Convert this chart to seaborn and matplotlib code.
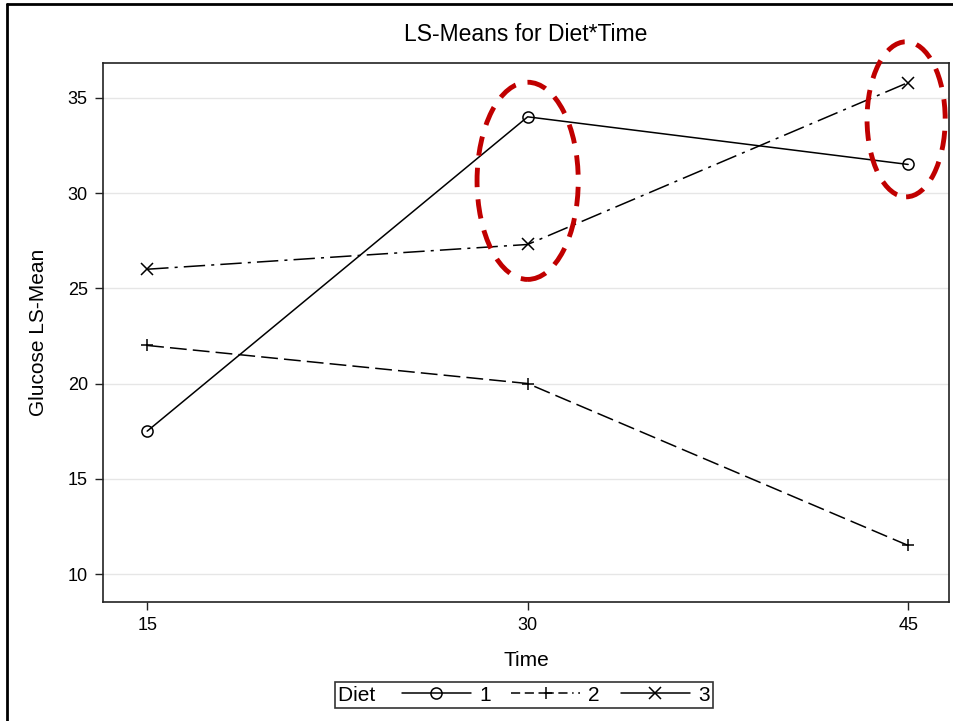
import numpy as np
import pandas as pd
import seaborn as sns
import matplotlib.pyplot as plt
from matplotlib.patches import Ellipse
from matplotlib.lines import Line2D

# LS-means
times = [15, 30, 45]
diet1 = [17.5, 34.0, 31.5]
diet2 = [22.0, 20.0, 11.5]
diet3 = [26.0, 27.3, 35.8]

df = pd.DataFrame({
    "Time": times * 3,
    "LSMean": diet1 + diet2 + diet3,
    "Diet": ["1"] * 3 + ["2"] * 3 + ["3"] * 3,
})

sns.set_style("white")
plt.rcParams['font.family'] = ['Liberation Sans', 'DejaVu Sans']
plt.rcParams['font.size'] = 12
plt.rcParams['text.color'] = 'black'
plt.rcParams['axes.labelcolor'] = 'black'
plt.rcParams['xtick.color'] = 'black'
plt.rcParams['ytick.color'] = 'black'

fig = plt.figure(figsize=(9.54, 7.21), dpi=100)
ax = fig.add_axes([0.108, 0.165, 0.887, 0.748])

markers = {"1": "o", "2": "+", "3": "x"}
line_dashes = {"1": None, "2": (11, 4), "3": (14, 4, 2, 4)}
for d in ["1", "2", "3"]:
    sub = df[df["Diet"] == d]
    sns.lineplot(data=sub, x="Time", y="LSMean", color="black", linewidth=1.1,
                 marker=markers[d], markersize=8, markeredgewidth=1.1,
                 markerfacecolor="none", markeredgecolor="black", ax=ax)
    if line_dashes[d] is not None:
        ax.lines[-1].set_dashes(line_dashes[d])

# highlight circles (red dashed ellipses)
ax.add_patch(Ellipse((30, 30.64), 3.99, 10.35, fill=False, edgecolor="#c00000",
                     linewidth=3.5, linestyle=(0, (4, 2.5)), clip_on=False, zorder=5))
ax.add_patch(Ellipse((44.92, 33.87), 3.08, 8.14, fill=False, edgecolor="#c00000",
                     linewidth=3.5, linestyle=(0, (4, 2.5)), clip_on=False, zorder=5))

ax.set_xlim(13.26, 46.62)
ax.set_ylim(8.53, 36.84)
ax.set_xticks(times)
ax.set_yticks([10, 15, 20, 25, 30, 35])
ax.yaxis.grid(True, color="#e6e6e6", linewidth=1)
ax.xaxis.grid(False)
for s in ax.spines.values():
    s.set_color("#222222")
    s.set_linewidth(1.2)
ax.tick_params(axis="both", direction="out", length=6, width=1, color="#222222",
               labelsize=13, bottom=True, left=True, pad=5)
ax.set_xlabel("Time", fontsize=15, labelpad=12)
ax.set_ylabel("Glucose LS-Mean", fontsize=15, labelpad=14)
ax.set_title("LS-Means for Diet*Time", fontsize=16.5, pad=16)

# legend with title on the left
handles = [
    Line2D([], [], color="black", linewidth=1.1, marker="o", markerfacecolor="none",
           markersize=8, markeredgewidth=1.1),
    Line2D([], [], color="black", linewidth=1.1, marker="+", markersize=9,
           markeredgewidth=1.1, dashes=(6, 3, 6, 3, 1, 3)),
    Line2D([], [], color="black", linewidth=1.1, marker="x", markersize=8,
           markeredgewidth=1.1),
]
leg = fig.legend(handles, ["1", "2", "3"], title="Diet ", ncol=3, loc="center",
                 bbox_to_anchor=(0.549, 0.036), frameon=True, fancybox=False,
                 edgecolor="black", handlelength=3.3, numpoints=1, fontsize=15,
                 title_fontsize=15, columnspacing=1.0, handletextpad=0.4,
                 borderpad=0.15, borderaxespad=0)
leg.get_frame().set_linewidth(1.2)
box = leg.get_children()[0]
title_box, handle_box = box.get_children()
box._children = [handle_box]
handle_box._children.insert(0, title_box)

# outer frame (left and top edges)
fig.add_artist(Line2D([0.0073, 0.0073], [0, 0.9945], color="black", linewidth=2,
                      transform=fig.transFigure))
fig.add_artist(Line2D([0.0073, 1], [0.9945, 0.9945], color="black", linewidth=2,
                      transform=fig.transFigure))

fig.savefig("out.png", dpi=100)
